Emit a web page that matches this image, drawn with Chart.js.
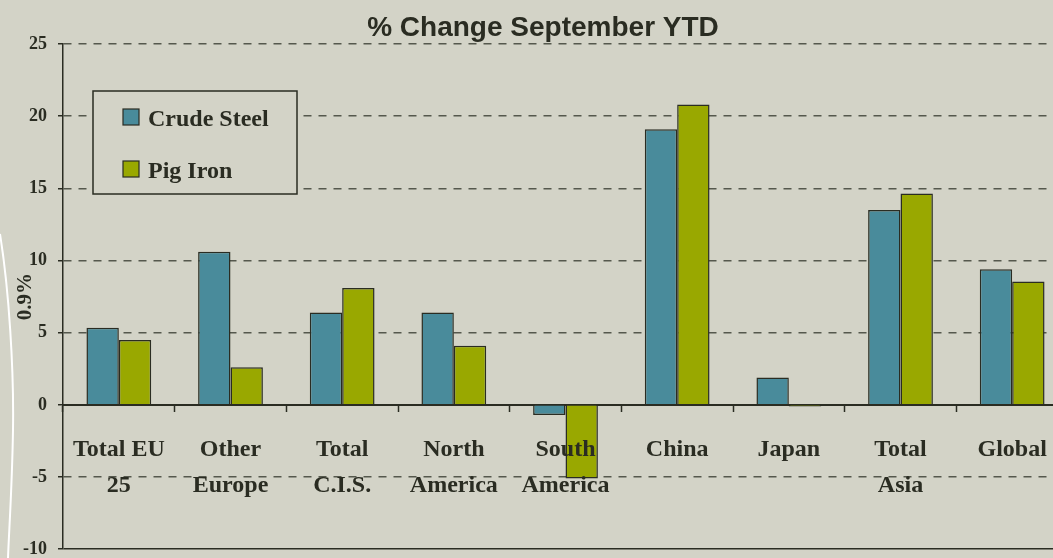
<!DOCTYPE html>
<html>
<head>
<meta charset="utf-8">
<script src="https://cdn.jsdelivr.net/npm/chart.js@4"></script>
<style>
    html, body { margin: 0; padding: 0; background: #d3d3c7; overflow: hidden; }
    #wrap { position: relative; width: 1070px; height: 571px; }
</style>
</head>
<body>
<div id="wrap"><canvas id="chart"></canvas></div>
<script>
const categories = [
    ['Total EU', '25'], ['Other', 'Europe'], ['Total', 'C.I.S.'], ['North', 'America'],
    ['South', 'America'], ['China'], ['Japan'], ['Total', 'Asia'], ['Global']
];
const crudeSteel = [5.35, 10.6, 6.4, 6.4, -0.7, 19.1, 1.9, 13.5, 9.4];
const pigIron = [4.5, 2.6, 8.1, 4.1, -5.1, 20.8, -0.12, 14.65, 8.55];
const yTicks = [-10, -5, 0, 5, 10, 15, 20, 25];

const ink = '#2a2c22';
const bg = '#d3d3c7';

// title, legend box and the little white curve on the left
const extras = {
    id: 'extras',
    beforeDraw(chart) {
        const c = chart.ctx;
        c.save();
        c.fillStyle = bg;
        c.fillRect(0, 0, chart.width, chart.height);
        c.strokeStyle = '#ffffff';
        c.lineWidth = 2;
        c.beginPath();
        c.moveTo(0, 234);
        c.bezierCurveTo(9, 290, 14, 370, 13, 430);
        c.bezierCurveTo(12, 490, 9, 530, 8, 558);
        c.stroke();
        c.restore();
    },
    afterDraw(chart) {
        const c = chart.ctx;
        c.save();
        c.fillStyle = ink;
        c.font = 'bold 28px "Liberation Sans"';
        c.textAlign = 'center';
        c.textBaseline = 'alphabetic';
        c.fillText('% Change September YTD', 543, 36);

        // legend box
        c.fillStyle = bg;
        c.fillRect(93, 91, 204, 103);
        c.strokeStyle = ink;
        c.lineWidth = 1.5;
        c.strokeRect(93, 91, 204, 103);
        c.font = 'bold 24px "Liberation Serif"';
        c.textAlign = 'left';
        chart.data.datasets.forEach((ds, i) => {
            const y = 109 + i * 52;
            c.fillStyle = ds.backgroundColor;
            c.fillRect(123, y, 16, 16);
            c.strokeStyle = ink;
            c.lineWidth = 1.2;
            c.strokeRect(123, y, 16, 16);
            c.fillStyle = ink;
            c.fillText(ds.label, 148, y + 17);
        });
        c.restore();
    }
};

const solid = v => v === 0 || v === -10;

new Chart(document.getElementById('chart'), {
    type: 'bar',
    data: {
        labels: categories,
        datasets: [
            { label: 'Crude Steel', data: crudeSteel, backgroundColor: '#498b9b', borderColor: ink, borderWidth: 1.5 },
            { label: 'Pig Iron', data: pigIron, backgroundColor: '#99a800', borderColor: ink, borderWidth: 1.5 }
        ]
    },
    options: {
        responsive: true,
        maintainAspectRatio: false,
        animation: false,
        layout: { padding: { top: 44, bottom: 10, left: 0, right: 2 } },
        datasets: { bar: { categoryPercentage: 0.58, barPercentage: 1 } },
        plugins: { legend: { display: false }, title: { display: false }, tooltip: { enabled: false } },
        scales: {
            x: {
                position: { y: 0 },
                grid: { offset: true, drawOnChartArea: false, drawTicks: true, tickLength: 6, tickColor: ink, tickWidth: 1.5 },
                border: { display: true, color: ink, width: 2 },
                ticks: {
                    z: 1,
                    color: ink, padding: 21, maxRotation: 0, autoSkip: false,
                    font: { family: 'Liberation Serif', size: 24, weight: 'bold', lineHeight: 1.5 }
                }
            },
            y: {
                min: -10,
                max: 25,
                afterBuildTicks: s => { s.ticks = yTicks.map(v => ({ value: v })); },
                afterFit: s => { s.width = 63; },
                grid: {
                    color: ctx => solid(ctx.tick.value) ? ink : '#55584d',
                    lineWidth: 1.5,
                    tickLength: 5,
                    tickColor: ink,
                    tickBorderDash: []
                },
                border: { display: true, color: ink, width: 1.5, dash: ctx => solid(ctx.tick.value) ? [] : [8, 7] },
                ticks: {
                    color: ink, padding: 11,
                    font: { family: 'Liberation Serif', size: 18, weight: 'bold' }
                },
                title: {
                    display: true, text: '0.9%', color: ink, padding: { top: 13, bottom: 0 },
                    font: { family: 'Liberation Serif', size: 21, weight: 'bold' }
                }
            }
        }
    },
    plugins: [extras]
});
</script>
</body>
</html>
